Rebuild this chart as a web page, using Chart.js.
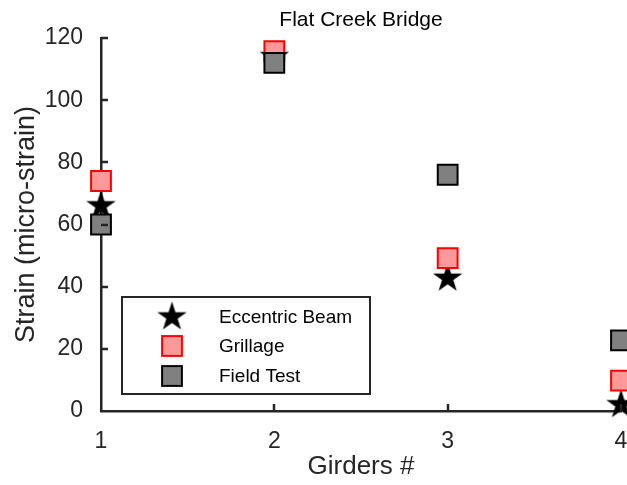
<!DOCTYPE html>
<html>
<head>
<meta charset="utf-8">
<script src="https://cdn.jsdelivr.net/npm/chart.js@4/dist/chart.umd.min.js"></script>
<style>
  html, body { margin: 0; padding: 0; background: #ffffff; }
  #wrap { width: 627px; height: 485px; position: relative; overflow: hidden; }
</style>
</head>
<body>
<div id="wrap"><canvas id="c" width="627" height="485"></canvas></div>
<script>
// Girder numbers and measured / modelled strains (micro-strain)
const girders = [1, 2, 3, 4];
const eccentricBeam = [66, 114, 42.7, 2];
const grillage = [74, 115.8, 49.2, 9.8];
const fieldTest = [60, 112, 76, 22.7];

const chartTitle = 'Flat Creek Bridge';
const xTitle = 'Girders #';
const yTitle = 'Strain (micro-strain)';
const seriesNames = ['Eccentric Beam', 'Grillage', 'Field Test'];

const FONT = "'Liberation Sans', Arial, Helvetica, sans-serif";
const AXIS_COLOR = '#262626';

// Filled five-pointed star marker as an offscreen canvas
function makeStar(R, fill) {
  const s = Math.ceil(2 * R + 2);
  const c = document.createElement('canvas');
  c.width = s; c.height = s;
  const g = c.getContext('2d');
  const cx = s / 2, cy = s / 2, r = R * 0.382;
  g.beginPath();
  for (let i = 0; i < 10; i++) {
    const rad = i % 2 === 0 ? R : r;
    const a = -Math.PI / 2 + i * Math.PI / 5;
    g.lineTo(cx + rad * Math.cos(a), cy + rad * Math.sin(a));
  }
  g.closePath();
  g.fillStyle = fill;
  g.fill();
  return c;
}
const starImg = makeStar(15.5, '#000000');

const toPoints = ys => girders.map((x, i) => ({ x, y: ys[i] }));

const SQ_R = 14;

// Inward tick marks (on the inside of the axes)
const innerTicks = {
  id: 'innerTicks',
  afterDraw(chart) {
    const { ctx, chartArea: a, scales: { x, y } } = chart;
    ctx.save();
    ctx.strokeStyle = AXIS_COLOR;
    ctx.lineWidth = 2.5;
    ctx.beginPath();
    y.ticks.forEach(t => {
      if (t.value === y.min) return;
      const py = Math.round(y.getPixelForValue(t.value));
      ctx.moveTo(a.left, py); ctx.lineTo(a.left + 7, py);
    });
    x.ticks.forEach(t => {
      if (t.value === x.min) return;
      const px = Math.round(x.getPixelForValue(t.value));
      ctx.moveTo(px, a.bottom); ctx.lineTo(px, a.bottom - 7);
    });
    ctx.stroke();
    ctx.restore();
  }
};

// Title centred over the plot area
const plotTitle = {
  id: 'plotTitle',
  afterDraw(chart) {
    const { ctx, chartArea: a } = chart;
    ctx.save();
    ctx.fillStyle = '#000000';
    ctx.font = `21px ${FONT}`;
    ctx.textAlign = 'center';
    ctx.textBaseline = 'middle';
    ctx.fillText(chartTitle, (a.left + a.right) / 2, 20);
    ctx.restore();
  }
};

// Boxed legend inside the plot
const boxLegend = {
  id: 'boxLegend',
  afterDraw(chart) {
    const { ctx } = chart;
    const bx = 122, by = 297, bw = 248, bh = 97;
    ctx.save();
    ctx.fillStyle = '#ffffff';
    ctx.fillRect(bx, by, bw, bh);
    ctx.strokeStyle = AXIS_COLOR;
    ctx.lineWidth = 2;
    ctx.strokeRect(bx, by, bw, bh);
    const mx = 172;
    const rows = [317, 346, 376];
    chart.data.datasets.forEach((ds, i) => {
      const cy = rows[i];
      if (ds.pointStyle === starImg) {
        ctx.drawImage(starImg, mx - starImg.width / 2, cy - starImg.height / 2);
      } else {
        const h = SQ_R * Math.SQRT1_2;
        ctx.fillStyle = ds.backgroundColor;
        ctx.strokeStyle = ds.borderColor;
        ctx.lineWidth = ds.borderWidth;
        ctx.fillRect(mx - h, cy - h, 2 * h, 2 * h);
        ctx.strokeRect(mx - h, cy - h, 2 * h, 2 * h);
      }
      ctx.fillStyle = '#000000';
      ctx.font = `19px ${FONT}`;
      ctx.textAlign = 'left';
      ctx.textBaseline = 'middle';
      ctx.fillText(ds.label, 219, cy + 1);
    });
    ctx.restore();
  }
};

new Chart(document.getElementById('c'), {
  type: 'scatter',
  data: {
    datasets: [
      {
        label: seriesNames[0],
        data: toPoints(eccentricBeam),
        pointStyle: starImg,
        backgroundColor: '#000000',
        borderColor: '#000000',
        order: 2
      },
      {
        label: seriesNames[1],
        data: toPoints(grillage),
        pointStyle: 'rect',
        pointRadius: SQ_R,
        pointHoverRadius: SQ_R,
        backgroundColor: '#ff9999',
        borderColor: '#ff0000',
        borderWidth: 2,
        order: 1
      },
      {
        label: seriesNames[2],
        data: toPoints(fieldTest),
        pointStyle: 'rect',
        pointRadius: SQ_R,
        pointHoverRadius: SQ_R,
        backgroundColor: '#808080',
        borderColor: '#000000',
        borderWidth: 2,
        order: 0
      }
    ]
  },
  options: {
    responsive: false,
    animation: false,
    events: [],
    clip: false,
    layout: { autoPadding: false, padding: { top: 38, right: 6, left: 0, bottom: 0 } },
    plugins: {
      legend: { display: false },
      title: { display: false },
      tooltip: { enabled: false }
    },
    scales: {
      x: {
        type: 'linear',
        min: 1,
        max: 4,
        afterFit: s => { s.height = 74; s.paddingLeft = 0; s.paddingRight = 0; },
        grid: { display: false },
        border: { display: true, color: AXIS_COLOR, width: 2.5 },
        ticks: {
          stepSize: 1,
          padding: 9,
          color: AXIS_COLOR,
          font: { family: FONT, size: 23 }
        },
        title: {
          display: true,
          text: xTitle,
          color: AXIS_COLOR,
          font: { family: FONT, size: 26 },
          padding: { top: 0, bottom: 3 }
        }
      },
      y: {
        type: 'linear',
        min: 0,
        max: 120,
        afterFit: s => { s.width = 101; s.paddingTop = 0; s.paddingBottom = 0; },
        grid: { display: false },
        border: { display: true, color: AXIS_COLOR, width: 2.5 },
        ticks: {
          stepSize: 20,
          padding: 10,
          color: AXIS_COLOR,
          font: { family: FONT, size: 23 }
        },
        title: {
          display: true,
          text: yTitle,
          color: AXIS_COLOR,
          font: { family: FONT, size: 27 },
          padding: { top: 10, bottom: 0 }
        }
      }
    }
  },
  plugins: [innerTicks, plotTitle, boxLegend]
});
</script>
</body>
</html>
